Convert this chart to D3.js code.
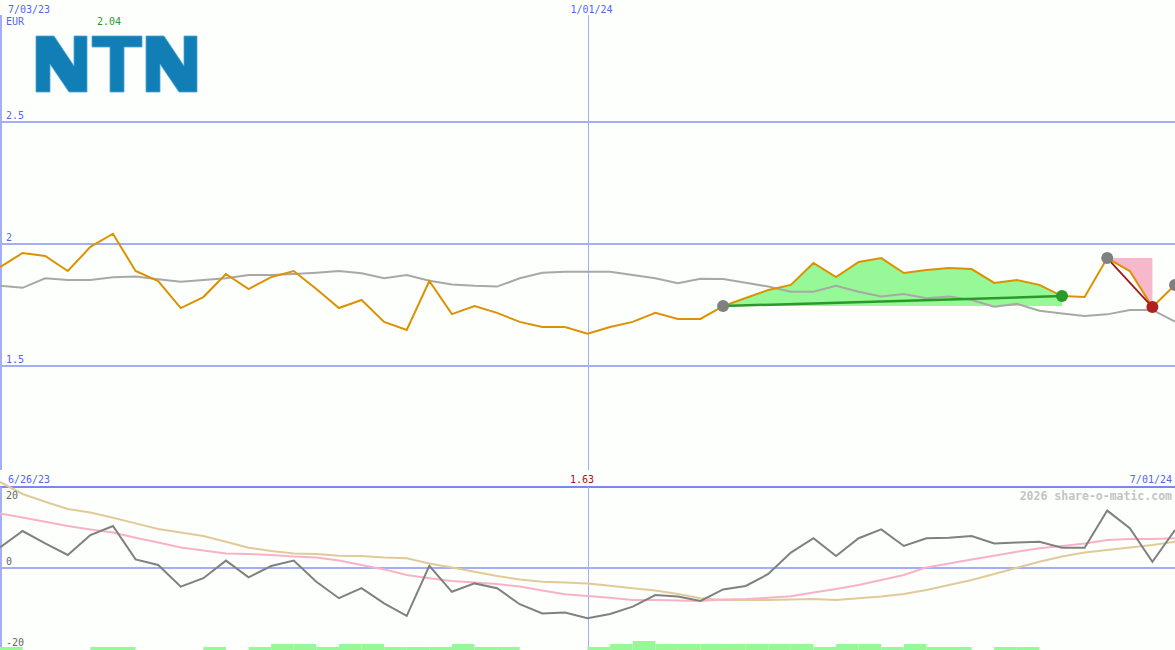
<!DOCTYPE html>
<html><head><meta charset="utf-8">
<script src="https://cdn.jsdelivr.net/npm/d3@7"></script>
<style>
html,body{margin:0;padding:0;background:#fcfffc;}
svg{display:block;}
text{font-family:"DejaVu Sans Mono",monospace;}
</style></head>
<body><div id="chart"></div>
<script>
// ---- data ----
const startDate = new Date(2023, 6, 3);   // 7/03/23
const endDate = new Date(2024, 6, 1);     // 7/01/24
const price = [1.903,1.961,1.949,1.887,1.986,2.04,1.887,1.846,1.735,1.780,
  1.875,1.813,1.862,1.887,1.813,1.735,1.768,1.678,1.645,1.846,
  1.710,1.743,1.715,1.678,1.657,1.657,1.63,1.657,1.678,1.715,
  1.690,1.690,1.743,1.776,1.809,1.830,1.920,1.862,1.924,1.940,
  1.879,1.891,1.899,1.895,1.838,1.850,1.830,1.784,1.780,1.940,
  1.887,1.739,1.830];
const priceAvg = [1.826,1.818,1.857,1.850,1.850,1.861,1.864,1.853,1.843,1.850,
  1.857,1.871,1.871,1.875,1.880,1.887,1.878,1.857,1.871,1.847,
  1.832,1.826,1.823,1.857,1.880,1.884,1.884,1.884,1.871,1.857,
  1.837,1.855,1.854,1.839,1.823,1.802,1.802,1.826,1.802,1.782,
  1.793,1.775,1.782,1.768,1.740,1.752,1.724,1.713,1.702,1.709,
  1.727,1.727,1.679];
const momentum = [4.9,9.0,5.9,3.0,8.0,10.25,1.9,0.5,-4.9,-2.8,
  1.6,-2.6,0.25,1.6,-3.7,-7.8,-5.3,-9.1,-12.2,0.3,
  -6.2,-4.1,-5.3,-9.3,-11.6,-11.4,-12.8,-11.75,-9.9,-7.0,
  -7.4,-8.5,-5.6,-4.75,-1.75,3.6,7.2,2.75,7.2,9.4,
  5.25,7.2,7.3,7.75,5.9,6.1,6.3,4.8,4.8,14.1,
  9.7,1.3,9.25];
const momAvgFast = [13.4,12.4,11.3,10.25,9.4,8.6,7.3,6.1,4.9,4.1,
  3.4,3.25,3.0,2.6,2.4,1.6,0.5,-0.6,-2.0,-2.8,
  -3.5,-3.9,-4.25,-4.9,-5.9,-6.8,-7.25,-7.7,-8.25,-8.25,
  -8.4,-8.5,-8.1,-8.0,-7.7,-7.3,-6.4,-5.5,-4.5,-3.25,
  -2.0,-0.1,0.9,1.9,2.8,3.8,4.7,5.25,5.9,6.75,
  7.0,7.0,7.2];
const momAvgSlow = [21.25,18.25,16.3,14.5,13.6,12.3,10.9,9.5,8.6,7.75,
  6.3,4.8,4.0,3.4,3.25,2.8,2.75,2.4,2.2,0.9,
  -0.1,-1.2,-2.25,-3.1,-3.7,-3.9,-4.1,-4.7,-5.3,-5.9,
  -6.75,-7.8,-8.25,-8.25,-8.25,-8.1,-8.0,-8.25,-7.8,-7.4,
  -6.75,-5.75,-4.5,-3.25,-1.75,-0.2,1.3,2.6,3.6,4.25,
  4.9,5.5,6.3];
const volume = [1,0,0,0,1,1,0,0,0,1,
  0,1,2,2,1,2,2,1,1,1,
  2,1,1,0,0,0,1,2,3,2,
  2,2,2,2,2,2,1,2,2,1,
  2,1,1,0,1,1,0,0,0,0,
  0,0,0];
const signalStart = [32, 49, 52];
const signalEnd = [47, 51, null];
const priceTicks = [2.5, 2, 1.5];
const momTicks = [20, 0, -20];
const topLeftLabel = "7/03/23";
const midLabel = "1/01/24";
const bottomLeftLabel = "6/26/23";
const bottomRightLabel = "7/01/24";
const currency = "EUR";
const highLabel = "2.04";
const lowLabel = "1.63";
const credit = "2026 share-o-matic.com";

// ---- setup ----
const W = 1175, H = 650;
const dates = price.map((d, i) => d3.timeWeek.offset(startDate, i));
const x = d3.scaleTime().domain([startDate, endDate]).range([0, W]);
const yP = d3.scaleLinear().domain([1, 3]).range([487, 0]);
const yM = d3.scaleLinear().domain([-20, 20]).range([647, 487]);
const yV = d3.scaleLinear().domain([0, 3]).range([650, 641]);

const svg = d3.select("#chart").append("svg").attr("width", W).attr("height", H);
svg.append("rect").attr("width", W).attr("height", H).attr("fill", "#fcfffc");
svg.append("clipPath").attr("id", "clip").append("rect").attr("width", W).attr("height", H);

const gridC = "#a4aef4", textBlue = "#5566ee";

// grid lines
priceTicks.forEach(t => {
  const gy = Math.floor(yP(t)) + 1;
  svg.append("line").attr("x1", 0).attr("x2", W).attr("y1", gy).attr("y2", gy)
    .attr("stroke", gridC).attr("stroke-width", 2);
});
svg.append("line").attr("x1", 0).attr("x2", W).attr("y1", yM(0) + 1).attr("y2", yM(0) + 1)
  .attr("stroke", gridC).attr("stroke-width", 2);
svg.append("line").attr("x1", 0).attr("x2", W).attr("y1", 487).attr("y2", 487)
  .attr("stroke", "#7888ec").attr("stroke-width", 2);
// left axis lines
svg.append("line").attr("x1", 1).attr("x2", 1).attr("y1", 15).attr("y2", 470)
  .attr("stroke", gridC).attr("stroke-width", 2);
svg.append("line").attr("x1", 1).attr("x2", 1).attr("y1", 487).attr("y2", H)
  .attr("stroke", gridC).attr("stroke-width", 2);
// mid vertical line at 1/01/24
const xm = Math.round(x(new Date(2024, 0, 1))) + 0.5;
svg.append("line").attr("x1", xm).attr("x2", xm).attr("y1", 15).attr("y2", 470)
  .attr("stroke", gridC).attr("stroke-width", 1);
svg.append("line").attr("x1", xm).attr("x2", xm).attr("y1", 487).attr("y2", H)
  .attr("stroke", gridC).attr("stroke-width", 1);

// volume bars
const g = svg.append("g").attr("clip-path", "url(#clip)");
g.selectAll("rect.vol").data(volume).enter().append("rect").attr("class", "vol")
  .attr("x", (d, i) => x(dates[i]))
  .attr("width", (d, i) => x(d3.timeWeek.offset(dates[i], 1)) - x(dates[i]))
  .attr("y", d => yV(d)).attr("height", d => yV(0) - yV(d))
  .attr("fill", "#96f896");

// signal fills
signalStart.forEach((s, k) => {
  const e = signalEnd[k];
  if (e === null) return;
  const base = price[s];
  const gain = price[e] >= base;
  const idx = d3.range(s, e + 1);
  const area = d3.area().x(i => x(dates[i])).y0(yP(base)).y1(i => yP(price[i]));
  g.append("path").datum(idx).attr("d", area)
    .attr("fill", gain ? "#96f896" : "#f8b8cc");
});

// price average
const linePA = d3.line().x((d, i) => x(dates[i])).y(d => yP(d));
g.append("path").datum(priceAvg).attr("d", linePA).attr("fill", "none")
  .attr("stroke", "#a8a8a8").attr("stroke-width", 2);
// price
g.append("path").datum(price).attr("d", linePA).attr("fill", "none")
  .attr("stroke", "#dc9200").attr("stroke-width", 2);

// trend lines + markers
signalStart.forEach((s, k) => {
  const e = signalEnd[k];
  if (e !== null) {
    const gain = price[e] >= price[s];
    g.append("line").attr("x1", x(dates[s])).attr("y1", yP(price[s]))
      .attr("x2", x(dates[e])).attr("y2", yP(price[e]))
      .attr("stroke", gain ? "#2a9a2a" : "#a01818").attr("stroke-width", gain ? 2.5 : 1.8);
  }
});
signalStart.forEach((s, k) => {
  g.append("circle").attr("cx", x(dates[s])).attr("cy", yP(price[s])).attr("r", 6)
    .attr("fill", "#808080");
  const e = signalEnd[k];
  if (e !== null) {
    const gain = price[e] >= price[s];
    g.append("circle").attr("cx", x(dates[e])).attr("cy", yP(price[e])).attr("r", 6)
      .attr("fill", gain ? "#2a9a2a" : "#b02020");
  }
});

// bottom panel lines
const lineM = d3.line().x((d, i) => x(dates[i])).y(d => yM(d));
g.append("path").datum(momAvgSlow).attr("d", lineM).attr("fill", "none")
  .attr("stroke", "#e2ca98").attr("stroke-width", 2);
g.append("path").datum(momAvgFast).attr("d", lineM).attr("fill", "none")
  .attr("stroke", "#f8b2c8").attr("stroke-width", 2);
g.append("path").datum(momentum).attr("d", lineM).attr("fill", "none")
  .attr("stroke", "#808080").attr("stroke-width", 2);

// logo
const logo = svg.append("g").attr("fill", "#117fb6").attr("stroke", "#4aa6d6").attr("stroke-width", 0.8);
const nPath = "M0,0 L18,0 L38,30 L38,0 L51,0 L51,56 L33,56 L14,28 L14,56 L0,56 Z";
logo.append("path").attr("d", nPath).attr("transform", "translate(36,36)");
logo.append("path").attr("d", "M0,0 L50,0 L50,11 L32,11 L32,56 L18,56 L18,11 L0,11 Z").attr("transform", "translate(92,36)");
logo.append("path").attr("d", nPath).attr("transform", "translate(146,36)");

// labels
const t = (txt, xx, yy, col, anchor, size, weight) => svg.append("text").text(txt)
  .attr("x", xx).attr("y", yy).attr("fill", col).attr("font-size", size || 10)
  .attr("text-anchor", anchor || "start").attr("font-weight", weight || "normal");
t(topLeftLabel, 8, 13, textBlue);
t(currency, 6, 25, textBlue);
t(highLabel, 97, 25, "#2a9a2a");
t(midLabel, xm + 3, 13, textBlue, "middle");
priceTicks.forEach(v => t(String(v), 6, Math.floor(yP(v)) - 2, textBlue));
t(bottomLeftLabel, 8, 483, textBlue);
t(lowLabel, 582, 483, "#a01818", "middle");
t(bottomRightLabel, 1172, 483, textBlue, "end");
t(credit, 1172, 500, "#c4c4c4", "end", 11.5, "bold");
t(String(momTicks[0]), 6, 499, "#666");
t(String(momTicks[1]), 6, yM(momTicks[1]) - 2, "#666");
t(String(momTicks[2]), 6, yM(momTicks[2]) - 1, "#666");
</script></body></html>
